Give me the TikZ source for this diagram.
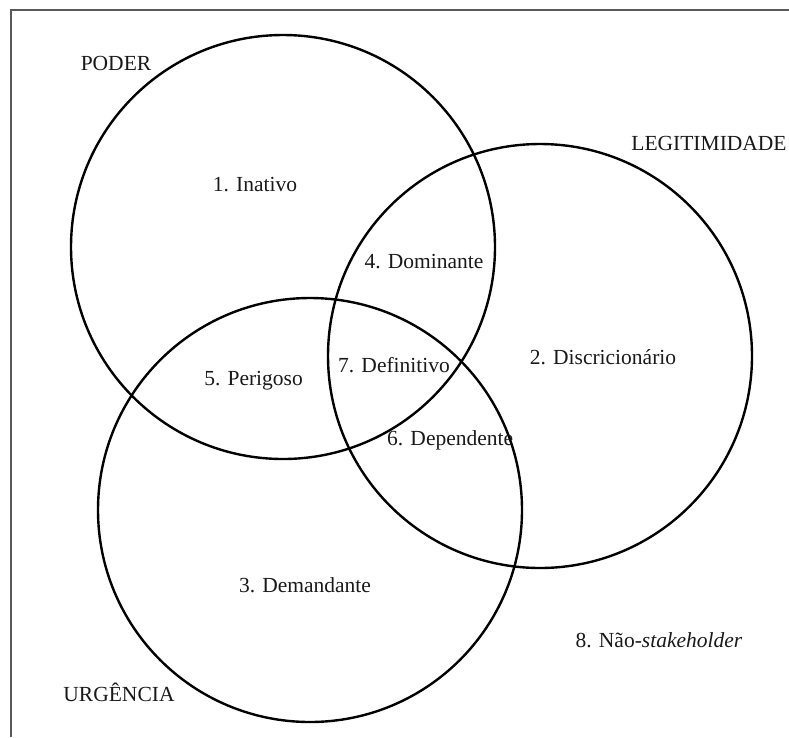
\documentclass[tikz,border=0pt]{standalone}
\usepackage{fontspec}
\setmainfont{Liberation Serif}
\begin{document}
\begin{tikzpicture}[x=1pt,y=-1pt,
  setc/.style={circle,draw=black,line width=2.4pt,inner sep=0pt,minimum size=424pt},
  lbl/.style={inner sep=0pt,font=\fontsize{21.5pt}{24pt}\selectfont,text=black!90}]
\useasboundingbox (0,0) rectangle (789,737);
\draw[line width=1.3pt,black!65] (11,737) -- (11,10) -- (789,10);
\node[setc] (P) at (283,247) {};
\node[setc] (L) at (540,356) {};
\node[setc] (U) at (310,510) {};
\node[lbl] (poder) at (116,63) {PODER};
\node[lbl] (legit) at (709,143) {LEGITIMIDADE};
\node[lbl] (urg) at (119,692) {URGÊNCIA};
\node[lbl] (n1) at (255,185) {1. Inativo};
\node[lbl] (n4) at (424,262) {4. Dominante};
\node[lbl,anchor=base east] (n5) at (303,385) {5. Perigoso};
\node[lbl,anchor=base west] (n7) at (338,372) {7. Definitivo};
\node[lbl] (n2) at (603,357) {2. Discricionário};
\node[lbl,anchor=base west] (n6) at (387,445) {6. Dependente};
\node[lbl] (n3) at (305,585) {3. Demandante};
\node[lbl] (n8) at (659,640) {8. Não-\textit{stakeholder}};
\end{tikzpicture}
\end{document}
